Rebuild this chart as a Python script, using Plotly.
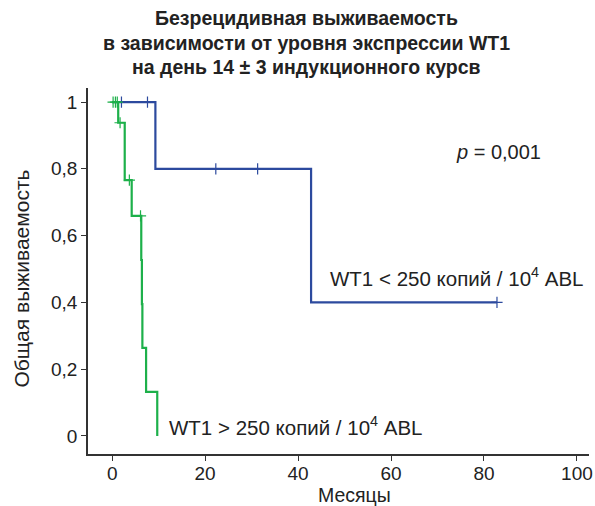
import plotly.graph_objects as go

# Kaplan-Meier data (months, survival)
blue_event_times = [0, 9.3, 42.8, 82.8]
blue_surv = [1.0, 0.8, 0.4, 0.4]
blue_censor_times = [2.0, 7.6, 22.3, 31.3, 82.8]

green_event_times = [0, 1.3, 2.7, 4.2, 6.26, 6.4, 6.5, 7.3, 9.7]
green_surv = [1.0, 0.938, 0.766, 0.659, 0.527, 0.395, 0.264, 0.132, 0.0]
green_censor_times = [0.2, 0.7, 1.1, 1.7, 3.7, 6.1]

x_ticks = [0, 20, 40, 60, 80, 100]
y_ticks = [0, 0.2, 0.4, 0.6, 0.8, 1.0]
y_tick_labels = ["0", "0,2", "0,4", "0,6", "0,8", "1"]

title_lines = ["Безрецидивная выживаемость",
               "в зависимости от уровня экспрессии WT1",
               "на день 14 ± 3 индукционного курсв"]
label_low = "WT1 < 250 копий / 10<sup>4</sup> ABL"
label_high = "WT1 > 250 копий / 10<sup>4</sup> ABL"
p_text = "<i>p</i> = 0,001"

BLUE = "#2C4A9E"
GREEN = "#1DB04A"
FONT = "Arial, Liberation Sans, sans-serif"


def surv_at(times, surv, t):
    v = surv[0]
    for ti, si in zip(times, surv):
        if ti <= t:
            v = si
    return v


fig = go.Figure()
for times, surv, ctimes, color in [
    (blue_event_times, blue_surv, blue_censor_times, BLUE),
    (green_event_times, green_surv, green_censor_times, GREEN),
]:
    fig.add_trace(go.Scatter(x=times, y=surv, mode="lines", line_shape="hv",
                             line=dict(color=color, width=2.2), showlegend=False,
                             hoverinfo="skip"))
    fig.add_trace(go.Scatter(x=ctimes, y=[surv_at(times, surv, t) for t in ctimes],
                             mode="markers",
                             marker=dict(symbol="cross-thin", size=8,
                                         line=dict(color=color, width=1.2)),
                             showlegend=False, hoverinfo="skip"))

# plot area in pixels: x 88..593, y 88..454
L, R, T, B = 88, 593, 88, 454
W, H = 595, 506


def px(xp):
    return (xp - L) / (R - L)


def py(yp):
    return (B - yp) / (B - T)


annotations = []
for line, yc in zip(title_lines, [18, 43, 67]):
    annotations.append(dict(text="<b>%s</b>" % line, x=px(308), y=py(yc), xref="paper",
                            yref="paper", showarrow=False, xanchor="center",
                            yanchor="middle", font=dict(family=FONT, size=19.5, color="#222")))
annotations.append(dict(text=label_low, x=px(330), y=py(277), xref="paper", yref="paper",
                        showarrow=False, xanchor="left", yanchor="middle",
                        font=dict(family=FONT, size=20.5, color="#222")))
annotations.append(dict(text=label_high, x=px(168), y=py(426), xref="paper", yref="paper",
                        showarrow=False, xanchor="left", yanchor="middle",
                        font=dict(family=FONT, size=20.5, color="#222")))
annotations.append(dict(text=p_text, x=px(457), y=py(152), xref="paper", yref="paper",
                        showarrow=False, xanchor="left", yanchor="middle",
                        font=dict(family=FONT, size=20, color="#222")))
annotations.append(dict(text="Месяцы", x=px(357), y=py(495), xref="paper", yref="paper",
                        showarrow=False, xanchor="center", yanchor="middle",
                        font=dict(family=FONT, size=19.5, color="#222")))
annotations.append(dict(text="Общая выживаемость", x=px(20), y=py(279), xref="paper",
                        yref="paper", showarrow=False, xanchor="center", yanchor="middle",
                        textangle=-90, font=dict(family=FONT, size=21, color="#222")))

fig.update_layout(
    width=W, height=H,
    margin=dict(l=L, r=W - R, t=T, b=H - B),
    plot_bgcolor="white", paper_bgcolor="white",
    font=dict(family=FONT, size=19, color="#222"),
    annotations=annotations,
    xaxis=dict(range=[-5.2, 102.6], tickvals=x_ticks, ticks="outside", ticklen=5,
               tickcolor="#333", showline=True, linecolor="#333", linewidth=1.5,
               showgrid=False, zeroline=False, tickfont=dict(size=19),
               ticklabeloverflow="allow", ticklabelstandoff=-4),
    yaxis=dict(range=[-0.054, 1.042], tickvals=y_ticks, ticktext=y_tick_labels,
               ticks="outside", ticklen=5, tickcolor="#333", showline=True,
               linecolor="#333", linewidth=1.5, showgrid=False, zeroline=False,
               tickfont=dict(size=19)),
)

fig.write_html("out.html")
